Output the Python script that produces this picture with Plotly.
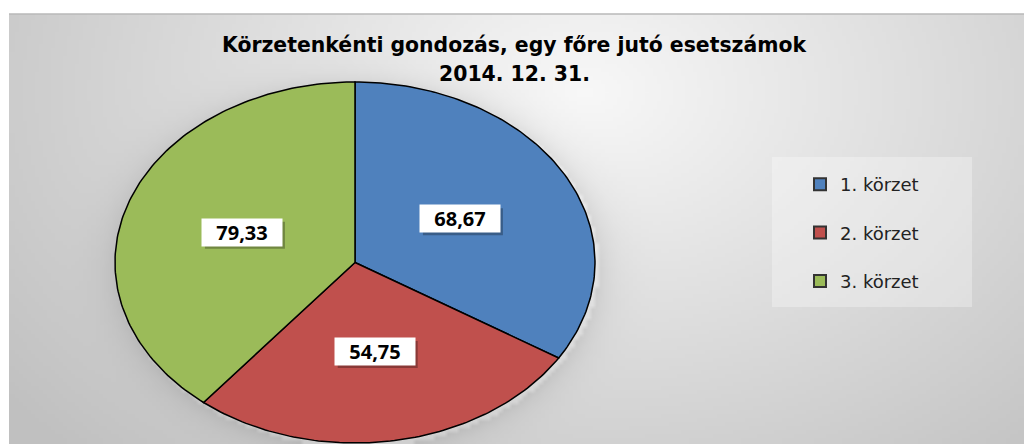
import base64, struct, zlib
import numpy as np
import plotly.graph_objects as go

# ---- data ----
categories = ["1. körzet", "2. körzet", "3. körzet"]
values = [68.67, 54.75, 79.33]
value_labels = ["68,67", "54,75", "79,33"]
colors = ["#4F81BD", "#C0504D", "#9BBB59"]
title_lines = ["Körzetenkénti gondozás, egy főre jutó esetszámok", "2014. 12. 31."]

W, H = 1024, 444
CX, CY, RX, RY = 355.0, 262.5, 240.0, 180.5  # pie placement in pixels

# ---- background gradient image (generated PNG) ----
def make_png(arr):
    h, w, _ = arr.shape
    raw = b"".join(b"\x00" + arr[i].tobytes() for i in range(h))
    def chunk(t, d):
        c = struct.pack(">I", len(d)) + t + d
        return c + struct.pack(">I", zlib.crc32(t + d) & 0xFFFFFFFF)
    return (b"\x89PNG\r\n\x1a\n" + chunk(b"IHDR", struct.pack(">IIBBBBB", w, h, 8, 2, 0, 0, 0))
            + chunk(b"IDAT", zlib.compress(raw, 9)) + chunk(b"IEND", b""))

bx0, by0 = 9, 14
bw, bh = W - bx0, H - by0
s = 4
gw, gh = bw // s, bh // s
yy, xx = np.mgrid[0:gh, 0:gw].astype(float)
px = bx0 + xx * s
py = by0 + yy * s
d = np.sqrt(((px - 580) / 600) ** 2 + ((py - 90) / 420) ** 2)
v = 248 - 46 * np.clip(d, 0, 1.2)
e = np.sqrt(((px - CX) / RX) ** 2 + ((py - CY) / RY) ** 2)
halo = np.where(e > 1, 20 * np.exp(-(e - 1) / 0.07), 0)
v = np.clip(v - halo, 0, 255).astype(np.uint8)
img = np.stack([v, v, v], axis=-1)
uri = "data:image/png;base64," + base64.b64encode(make_png(img)).decode()

# ---- axes so that unit circle maps to the ellipse ----
xr = [-CX / RX, (W - CX) / RX]
yr = [-(H - CY) / RY, CY / RY]

fig = go.Figure()

total = sum(values)
start = 0.0
mids = []
for cat, val, col in zip(categories, values, colors):
    span = val / total * 2 * np.pi
    n = max(int(span / (2 * np.pi) * 360), 4)
    th = np.linspace(start, start + span, n)
    xs = np.concatenate([[0], np.sin(th), [0]])
    ys = np.concatenate([[0], np.cos(th), [0]])
    fig.add_trace(go.Scatter(x=xs, y=ys, mode="lines", fill="toself", fillcolor=col,
                             line=dict(color="black", width=1.5), showlegend=False,
                             hoverinfo="skip"))
    mids.append(start + span / 2)
    start += span

for i, (cat, col) in enumerate(zip(categories, colors)):
    fig.add_trace(go.Scatter(x=[None], y=[None], mode="markers", name=cat,
                             legendgroup=str(i),
                             marker=dict(symbol="square", size=11, color=col,
                                         line=dict(color="#333333", width=1))))

annotations = []
shapes = []
BW, BH = 80, 27
for lab, m in zip(value_labels, mids):
    ax, ay = 0.5 * np.sin(m), 0.5 * np.cos(m)
    shapes.append(dict(type="rect", xref="x", yref="y", xsizemode="pixel", ysizemode="pixel",
                       xanchor=ax, yanchor=ay, x0=-BW / 2 + 3, x1=BW / 2 + 3,
                       y0=-BH / 2 - 3, y1=BH / 2 - 3, fillcolor="rgba(0,0,0,0.28)",
                       line=dict(width=0), layer="above"))
    annotations.append(dict(x=ax, y=ay, xref="x", yref="y", text="<b>" + lab + "</b>",
                            showarrow=False, width=BW - 2, height=BH - 2, bgcolor="white",
                            borderpad=1,
                            font=dict(color="black", size=20, family="Open Sans")))

for k, t in enumerate(title_lines):
    annotations.append(dict(x=514 / W, y=1 - (45 + 29 * k) / H, xref="paper", yref="paper",
                            yanchor="middle", xanchor="center",
                            text="<b>" + t + "</b>", showarrow=False,
                            font=dict(size=20.4, color="black", family="DejaVu Sans")))

shapes += [
    dict(type="rect", xref="paper", yref="paper", x0=772 / W, x1=972 / W,
         y0=1 - 157 / H, y1=1 - 307 / H, fillcolor="rgba(255,255,255,0.3)",
         line=dict(width=0), layer="below"),
    dict(type="line", xref="paper", yref="paper", x0=bx0 / W, x1=1, y0=1 - by0 / H,
         y1=1 - by0 / H, line=dict(color="#b8b8b8", width=1.5)),
]

fig.update_layout(
    width=W, height=H, margin=dict(l=0, r=0, t=0, b=0),
    paper_bgcolor="white", plot_bgcolor="rgba(0,0,0,0)",
    xaxis=dict(range=xr, visible=False, fixedrange=True),
    yaxis=dict(range=yr, visible=False, fixedrange=True),
    images=[dict(source=uri, xref="paper", yref="paper", x=bx0 / W, y=1 - by0 / H,
                 sizex=bw / W, sizey=bh / H, sizing="stretch", layer="below",
                 xanchor="left", yanchor="top")],
    shapes=shapes,
    legend=dict(x=800 / W, y=1 - 166 / H, xanchor="left", yanchor="top",
                bgcolor="rgba(0,0,0,0)", font=dict(size=18, color="#222222", family="DejaVu Sans"),
                tracegroupgap=22, itemsizing="constant"),
    annotations=annotations,
    showlegend=True,
)

fig.write_html("out.html", config={"displayModeBar": False},
               post_script="document.body.style.margin='0';document.body.style.overflow='hidden';")
